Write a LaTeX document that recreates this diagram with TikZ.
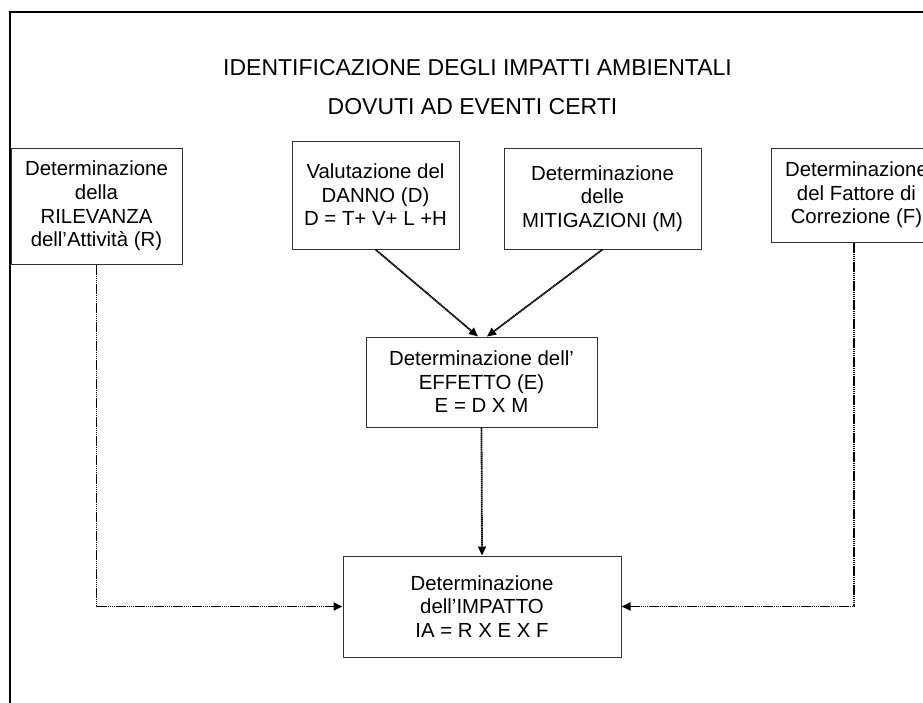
\documentclass[tikz,border=0pt]{standalone}
\usepackage{fontspec}
\setmainfont{Liberation Sans}
\usetikzlibrary{arrows.meta}
\begin{document}
\begin{tikzpicture}[x=1pt,y=-1pt,
  box/.style={draw=black!80, line width=1pt, fill=white, inner sep=0pt, align=center,
    font=\fontsize{20.4}{23.6}\selectfont},
  titletext/.style={inner sep=0pt, anchor=base, font=\fontsize{23}{26}\selectfont},
  conn/.style={line width=1.8pt, dash pattern=on 1.4pt off 0.5pt},
  tip/.style={-{Triangle[length=9pt,width=8pt]}},
  frame/.style={line width=2.4pt}]
\clip (0,0) rectangle (923,702);
\useasboundingbox (0,0) rectangle (923,702);
\fill[white] (0,0) rectangle (923,702);
\draw[frame] (10,760) -- (10,12) -- (960,12);
\node[titletext] (t1) at (477.5,75) {IDENTIFICAZIONE DEGLI IMPATTI AMBIENTALI};
\node[titletext] (t2) at (472.5,114) {DOVUTI AD EVENTI CERTI};
\node[box, minimum width=171pt, minimum height=116pt] (R) at (96.5,206)
  {Determinazione\\della\\RILEVANZA\\dell’Attività (R)};
\node[box, minimum width=167pt, minimum height=108pt] (D) at (375.5,195)
  {Valutazione del\\DANNO (D)\\D = T+ V+ L +H};
\node[box, minimum width=197pt, minimum height=101pt] (M) at (602.5,198.5)
  {Determinazione\\delle\\MITIGAZIONI (M)};
\node[box, minimum width=171pt, minimum height=94pt] (F) at (856.5,195)
  {Determinazione\\del Fattore di\\Correzione (F)};
\node[box, minimum width=231pt, minimum height=90pt] (E) at (481.5,382)
  {Determinazione dell’\\EFFETTO (E)\\E = D X M};
\node[box, minimum width=278pt, minimum height=101pt] (IA) at (482,606.5)
  {Determinazione\\dell’IMPATTO\\IA = R X E X F};
\draw[conn,tip] (D.south) -- ([xshift=-3.5pt]E.north);
\draw[conn,tip] (M.south) -- ([xshift=5.5pt]E.north);
\draw[conn,tip] (E.south) -- (IA.north);
\draw[conn,tip] (R.south) |- (IA.west);
\draw[conn,tip] ([xshift=-2.5pt]F.south) |- (IA.east);
\end{tikzpicture}
\end{document}
